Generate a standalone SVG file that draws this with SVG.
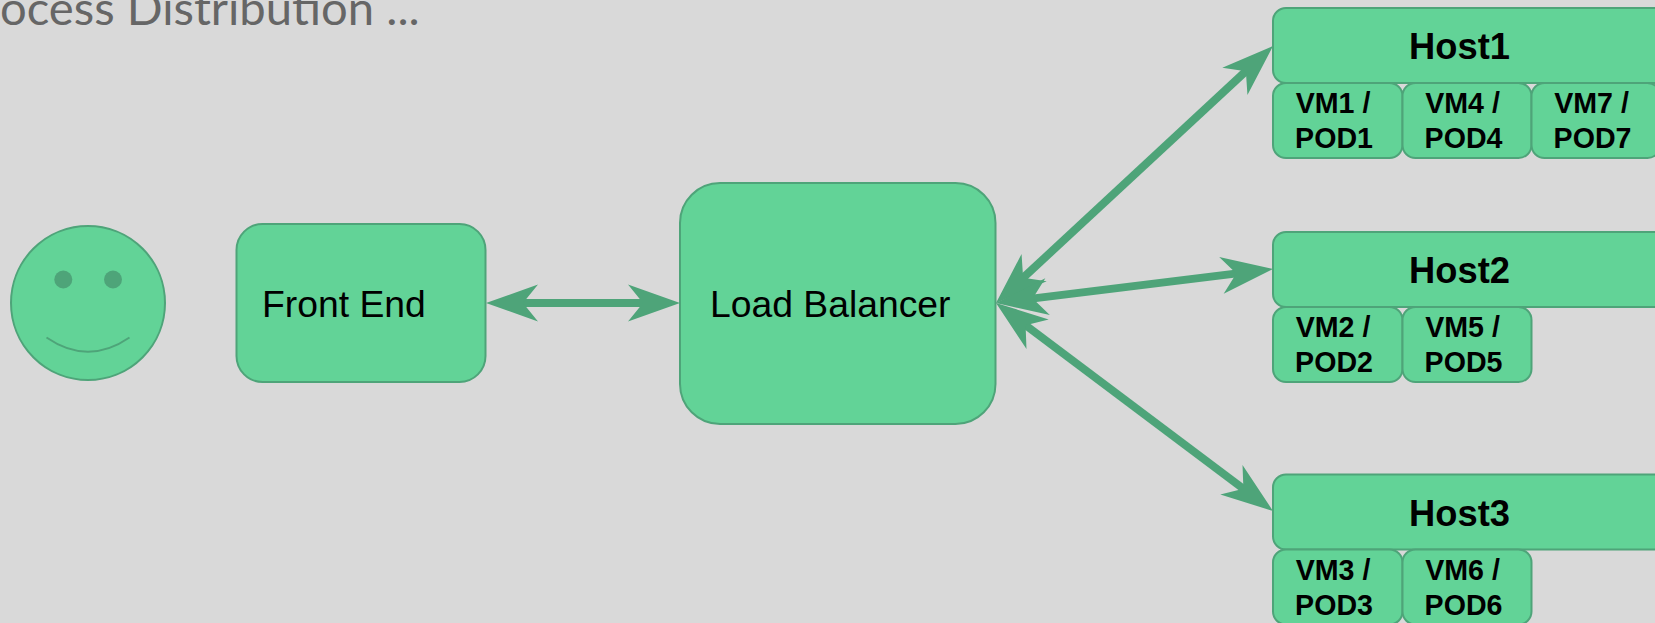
<svg xmlns="http://www.w3.org/2000/svg" width="1655" height="623" viewBox="0 0 1655 623">
<style>
.n{fill:#62d397;stroke:#4ea479;stroke-width:2}
.a{stroke:#4ea479;stroke-width:8;fill:none;marker-start:url(#h);marker-end:url(#h)}
text{font-family:"Liberation Sans",Arial,sans-serif;fill:#000}
.t{font-size:37.3px}
.h{font-size:36.3px;font-weight:bold;text-anchor:middle}
.v{font-size:28.6px;font-weight:bold;text-anchor:middle}
</style>
<defs>
<marker id="h" markerUnits="userSpaceOnUse" markerWidth="56" markerHeight="42" refX="16" refY="21" orient="auto-start-reverse" overflow="visible">
<path d="M52 21L0 2.5L15 21L0 39.5Z" fill="#4ea479"/>
</marker>
</defs>
<rect width="1655" height="623" fill="#d9d9d9"/>
<text x="0" y="25" font-size="47.2" style="font-family:Lato,'Open Sans',sans-serif;font-weight:400;fill:#666">ocess Distribution ...</text>
<g id="user">
<circle class="n" cx="88" cy="303" r="77"/>
<circle cx="63.3" cy="279.5" r="9" fill="#4ea479"/>
<circle cx="113" cy="279.5" r="9" fill="#4ea479"/>
<path d="M46.5 337.5Q88 366 129.5 337.5" fill="none" stroke="#4ea479" stroke-width="2"/>
</g>
<g id="frontend"><rect class="n" x="236.5" y="224" width="249" height="158" rx="26"/><text class="t" x="262" y="317">Front End</text></g>
<g id="loadbalancer"><rect class="n" x="680" y="183" width="315.5" height="241" rx="40"/><text class="t" x="710" y="317">Load Balancer</text></g>
<g id="host1"><rect class="n" x="1273" y="8" width="400" height="75" rx="13"/><text class="h" x="1459.5" y="59">Host1</text></g>
<g id="vm1"><rect class="n" x="1273" y="83" width="129.5" height="75" rx="13"/><text class="v" x="1333" y="113">VM1 /</text><text class="v" x="1334" y="148">POD1</text></g>
<g id="vm4"><rect class="n" x="1402.5" y="83" width="129" height="75" rx="13"/><text class="v" x="1462.5" y="113">VM4 /</text><text class="v" x="1463.5" y="148">POD4</text></g>
<g id="vm7"><rect class="n" x="1531.5" y="83" width="129" height="75" rx="13"/><text class="v" x="1591.5" y="113">VM7 /</text><text class="v" x="1592.5" y="148">POD7</text></g>
<g id="host2"><rect class="n" x="1273" y="232" width="400" height="75" rx="13"/><text class="h" x="1459.5" y="283">Host2</text></g>
<g id="vm2"><rect class="n" x="1273" y="307" width="129.5" height="75" rx="13"/><text class="v" x="1333" y="337">VM2 /</text><text class="v" x="1334" y="372">POD2</text></g>
<g id="vm5"><rect class="n" x="1402.5" y="307" width="129" height="75" rx="13"/><text class="v" x="1462.5" y="337">VM5 /</text><text class="v" x="1463.5" y="372">POD5</text></g>
<g id="host3"><rect class="n" x="1273" y="474.5" width="400" height="75" rx="13"/><text class="h" x="1459.5" y="526">Host3</text></g>
<g id="vm3"><rect class="n" x="1273" y="549.5" width="129.5" height="75" rx="13"/><text class="v" x="1333" y="580">VM3 /</text><text class="v" x="1334" y="615">POD3</text></g>
<g id="vm6"><rect class="n" x="1402.5" y="549.5" width="129" height="75" rx="13"/><text class="v" x="1462.5" y="580">VM6 /</text><text class="v" x="1463.5" y="615">POD6</text></g>
<g id="connectors">
<line class="a" x1="522" y1="303" x2="644" y2="303"/>
<line class="a" x1="1022.4" y1="278.5" x2="1246.6" y2="70.5"/>
<line class="a" x1="1031.7" y1="298.6" x2="1237.3" y2="273.4"/>
<line class="a" x1="1024.8" y1="324.6" x2="1244.2" y2="489.4"/>
</g>
</svg>
